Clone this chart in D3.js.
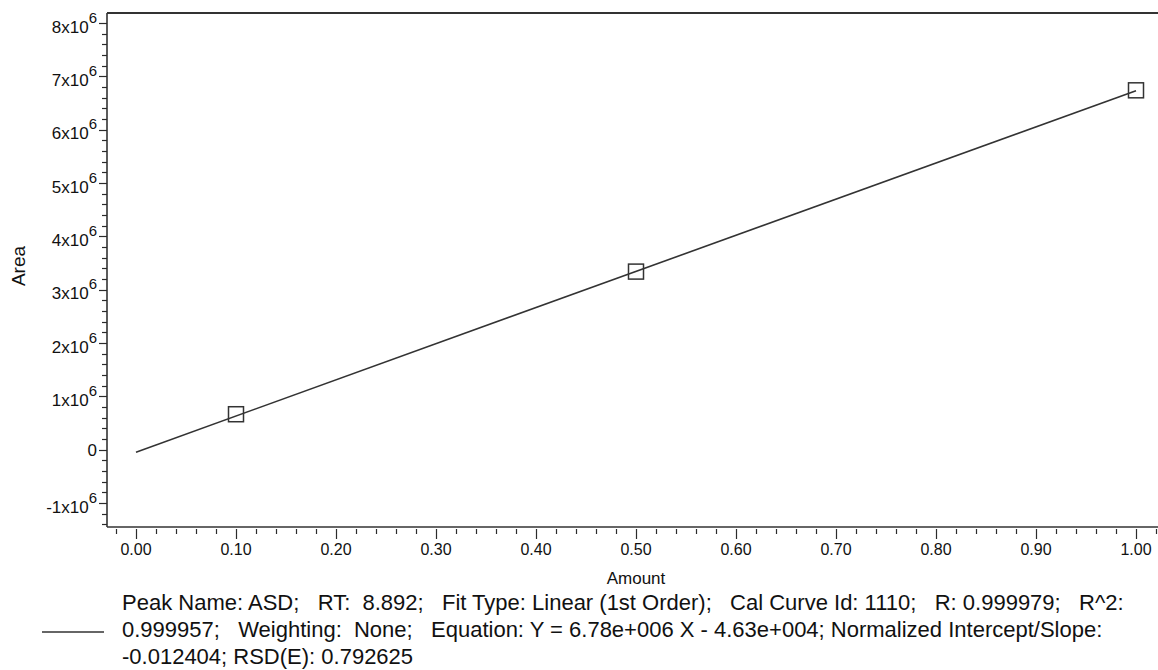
<!DOCTYPE html>
<html>
<head>
<meta charset="utf-8">
<script src="https://cdn.jsdelivr.net/npm/d3@7"></script>
<style>
  html, body { margin: 0; padding: 0; background: #fff; }
  svg { display: block; font-family: "Liberation Sans", Arial, sans-serif; }
</style>
</head>
<body>
<svg id="chart" width="1158" height="670"></svg>
<script>
// Calibration standards: amount vs. peak area
const amounts = [0.1, 0.5, 1.0];
const areas = [0.665e6, 3.34e6, 6.74e6];

// Fitted line: Y = slope * X + intercept
const fitSlope = 6.78e6;
const fitIntercept = -4.63e4;
const fitRange = [0.0, 1.0];

// Axis ticks
const xMajorTicks = [0.0, 0.1, 0.2, 0.3, 0.4, 0.5, 0.6, 0.7, 0.8, 0.9, 1.0];
const xTickLabels = ["0.00", "0.10", "0.20", "0.30", "0.40", "0.50", "0.60", "0.70", "0.80", "0.90", "1.00"];
const yMajorTicks = [-1e6, 0, 1e6, 2e6, 3e6, 4e6, 5e6, 6e6, 7e6, 8e6];
const yTickMantissa = ["-1", "0", "1", "2", "3", "4", "5", "6", "7", "8"];

const legendLines = [
  "Peak Name: ASD;   RT:  8.892;   Fit Type: Linear (1st Order);   Cal Curve Id: 1110;   R: 0.999979;   R^2:",
  "0.999957;   Weighting:  None;   Equation: Y = 6.78e+006 X - 4.63e+004; Normalized Intercept/Slope:",
  "-0.012404; RSD(E): 0.792625"
];

const svg = d3.select("#chart");
const plot = { left: 107, top: 13, right: 1158, bottom: 527 };
const ink = "#2b2b2b";
const textInk = "#111";

const x = d3.scaleLinear().domain([-0.029, 1.021]).range([plot.left, plot.right - 1]);
const y = d3.scaleLinear().domain([-1.45e6, 8.19e6]).range([plot.bottom, plot.top]);

// Frame: top edge, left axis, bottom axis
svg.append("line").attr("x1", plot.left).attr("x2", plot.right).attr("y1", plot.top).attr("y2", plot.top)
  .attr("stroke", "#333").attr("stroke-width", 2);
svg.append("line").attr("x1", plot.left).attr("x2", plot.left).attr("y1", plot.top).attr("y2", plot.bottom)
  .attr("stroke", "#333").attr("stroke-width", 1.6);
svg.append("line").attr("x1", plot.left).attr("x2", plot.right).attr("y1", plot.bottom).attr("y2", plot.bottom)
  .attr("stroke", "#333").attr("stroke-width", 1.6);

// X axis ticks (drawn just below the axis line)
const xMinor = d3.range(-1, 52).map(i => i * 0.02).filter(v => v >= x.domain()[0] && v <= x.domain()[1]);
svg.append("g").selectAll("line").data(xMinor).join("line")
  .attr("x1", d => Math.round(x(d)) + 0.5).attr("x2", d => Math.round(x(d)) + 0.5)
  .attr("y1", plot.bottom + 2).attr("y2", d => plot.bottom + (Math.abs(d * 10 - Math.round(d * 10)) < 1e-6 ? 12 : 7))
  .attr("stroke", ink).attr("stroke-width", 1.2);

svg.append("g").selectAll("text").data(xMajorTicks).join("text")
  .attr("x", d => x(d)).attr("y", plot.bottom + 28)
  .attr("text-anchor", "middle").attr("font-size", 16).attr("fill", textInk)
  .text((d, i) => xTickLabels[i]);

svg.append("text").attr("x", 636).attr("y", plot.bottom + 57)
  .attr("text-anchor", "middle").attr("font-size", 17).attr("fill", textInk).text("Amount");

// Y axis ticks
const yMinor = d3.range(-7, 41).map(i => i * 2e5);
svg.append("g").selectAll("line").data(yMinor).join("line")
  .attr("y1", d => Math.round(y(d)) + 0.5).attr("y2", d => Math.round(y(d)) + 0.5)
  .attr("x1", d => plot.left - (d % 1e6 === 0 ? 8 : 5)).attr("x2", plot.left)
  .attr("stroke", ink).attr("stroke-width", 1.2);

const yLabels = svg.append("g").selectAll("text").data(yMajorTicks).join("text")
  .attr("x", plot.left - 10)
  .attr("y", d => y(d) + (d === 0 ? 6 : 9.5))
  .attr("text-anchor", "end").attr("font-size", 17).attr("fill", textInk);
yLabels.each(function(d, i) {
  const t = d3.select(this);
  if (d === 0) { t.text(yTickMantissa[i]); return; }
  t.append("tspan").text(yTickMantissa[i] + "x10");
  t.append("tspan").attr("dy", -10).attr("font-size", 15).text("6");
});

svg.append("text")
  .attr("transform", "translate(25, 266) rotate(-90)")
  .attr("text-anchor", "middle").attr("font-size", 19).attr("fill", textInk).text("Area");

// Fitted calibration line
const fitPoints = fitRange.map(a => [a, fitSlope * a + fitIntercept]);
svg.append("path").datum(fitPoints)
  .attr("d", d3.line().x(d => x(d[0])).y(d => y(d[1])))
  .attr("fill", "none").attr("stroke", "#333").attr("stroke-width", 1.6);

// Calibration standards as open squares
const size = 15;
svg.append("g").selectAll("rect").data(amounts).join("rect")
  .attr("x", d => x(d) - size / 2).attr("y", (d, i) => y(areas[i]) - size / 2)
  .attr("width", size).attr("height", size)
  .attr("fill", "none").attr("stroke", "#333").attr("stroke-width", 1.5);

// Legend block beneath the chart
svg.append("line").attr("x1", 42).attr("x2", 104).attr("y1", 632).attr("y2", 632)
  .attr("stroke", "#333").attr("stroke-width", 1.3);
svg.append("g").selectAll("text").data(legendLines).join("text")
  .attr("x", 122).attr("y", (d, i) => 610 + i * 27)
  .attr("font-size", 22).attr("fill", textInk)
  .attr("xml:space", "preserve").style("white-space", "pre")
  .text(d => d);
</script>
</body>
</html>
